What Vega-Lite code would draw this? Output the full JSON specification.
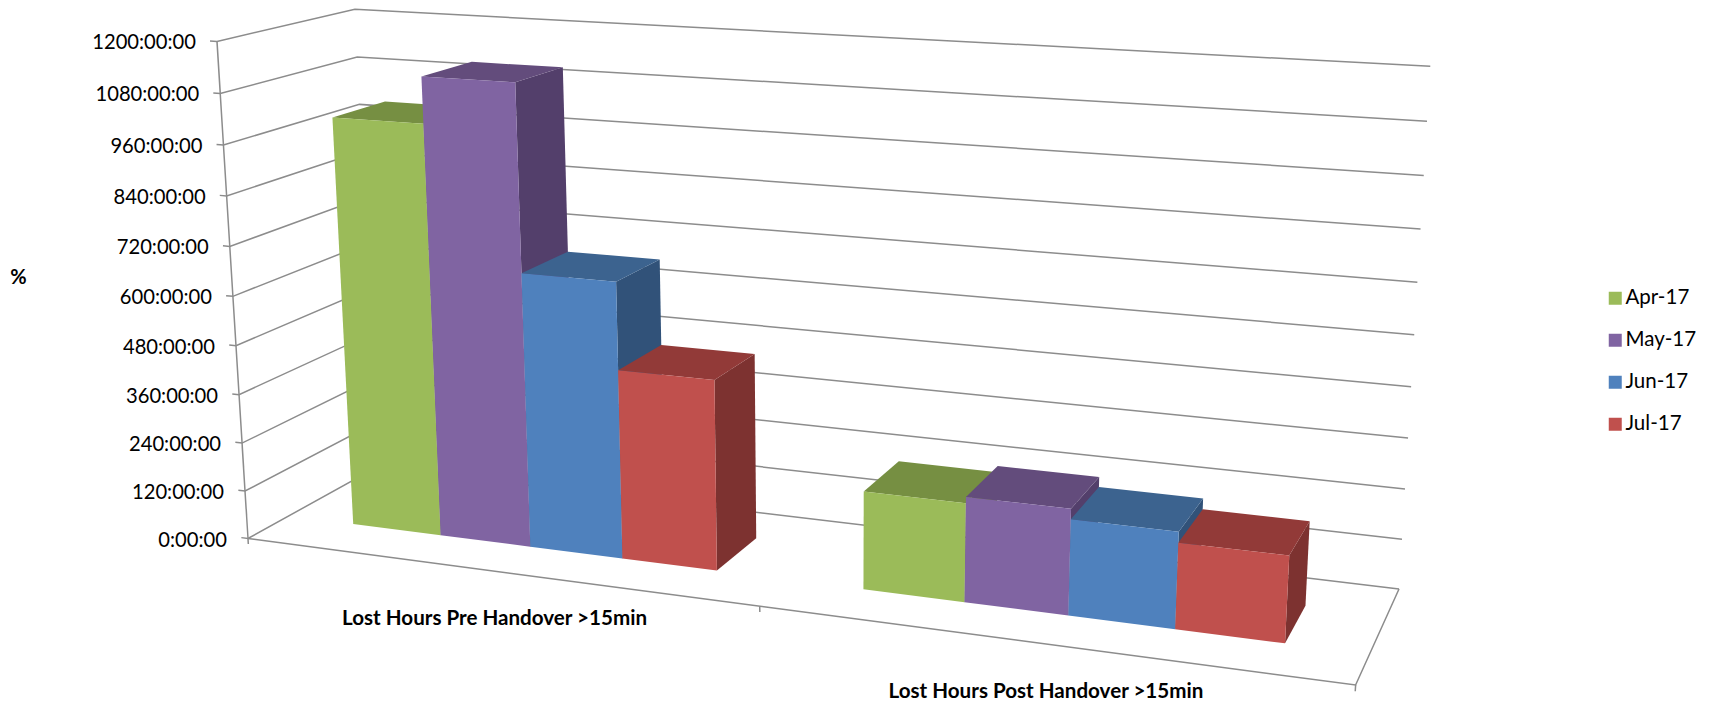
{
  "$schema": "https://vega.github.io/schema/vega-lite/v6.json",
  "width": 1710,
  "height": 702,
  "padding": 0,
  "autosize": {"type": "none"},
  "background": "white",
  "view": {"stroke": null},
  "params": [
    {"name": "pxU", "value": 916.26},
    {"name": "pxV", "value": 162.84},
    {"name": "pxH", "value": -41.85},
    {"name": "px0", "value": 248},
    {"name": "pyU", "value": 49.81},
    {"name": "pyV", "value": -29.59},
    {"name": "pyH", "value": -499.17},
    {"name": "py0", "value": 538.5},
    {"name": "wU", "value": -0.14115},
    {"name": "wV", "value": 0.08975},
    {"name": "wH", "value": -0.05}
  ],
  "datasets": {
    "bars": [
      {"category": "Lost Hours Pre Handover >15min", "month": "Apr-17", "hours": 1006},
      {"category": "Lost Hours Pre Handover >15min", "month": "May-17", "hours": 1116},
      {"category": "Lost Hours Pre Handover >15min", "month": "Jun-17", "hours": 670},
      {"category": "Lost Hours Pre Handover >15min", "month": "Jul-17", "hours": 460},
      {"category": "Lost Hours Post Handover >15min", "month": "Apr-17", "hours": 234},
      {"category": "Lost Hours Post Handover >15min", "month": "May-17", "hours": 249},
      {"category": "Lost Hours Post Handover >15min", "month": "Jun-17", "hours": 225},
      {"category": "Lost Hours Post Handover >15min", "month": "Jul-17", "hours": 200}
    ],
    "ticks": [
      {"hours": 0}, {"hours": 120}, {"hours": 240}, {"hours": 360}, {"hours": 480}, {"hours": 600},
      {"hours": 720}, {"hours": 840}, {"hours": 960}, {"hours": 1080}, {"hours": 1200}
    ],
    "frame": [
      {"edge": "height axis", "step": 0, "pu": 0, "pv": 0, "hours": 0},
      {"edge": "height axis", "step": 1, "pu": 0, "pv": 0, "hours": 1200},
      {"edge": "floor", "step": 0, "pu": 0, "pv": 0, "hours": 0},
      {"edge": "floor", "step": 1, "pu": 1, "pv": 0, "hours": 0},
      {"edge": "floor", "step": 2, "pu": 1, "pv": 1, "hours": 0},
      {"edge": "tick left", "step": 0, "pu": 0, "pv": 0, "hours": 0},
      {"edge": "tick left", "step": 1, "pu": 0, "pv": 0, "hours": -14},
      {"edge": "tick middle", "step": 0, "pu": 0.5, "pv": 0, "hours": 0},
      {"edge": "tick middle", "step": 1, "pu": 0.5, "pv": 0, "hours": -14},
      {"edge": "tick right", "step": 0, "pu": 1, "pv": 0, "hours": 0},
      {"edge": "tick right", "step": 1, "pu": 1, "pv": 0, "hours": -14}
    ],
    "categories": [
      {"category": "Lost Hours Pre Handover >15min", "pu": 0.25},
      {"category": "Lost Hours Post Handover >15min", "pu": 0.75}
    ]
  },
  "encoding": {
    "x": {"field": "X", "type": "quantitative", "scale": {"domain": [0, 1710], "nice": false, "zero": false}, "axis": null},
    "y": {
      "field": "Y",
      "type": "quantitative",
      "scale": {"domain": [702, 0], "nice": false, "zero": false},
      "axis": {
        "title": "%",
        "titleAngle": 0,
        "titleX": 18,
        "titleY": 277,
        "titleAlign": "center",
        "titleBaseline": "middle",
        "titleFont": "Lato",
        "titleFontSize": 20,
        "titleFontWeight": "bold",
        "titleColor": "#000000",
        "labels": false,
        "ticks": false,
        "domain": false,
        "grid": false
      }
    }
  },
  "layer": [
    {
      "data": {"name": "ticks"},
      "transform": [
        {"calculate": "[0, 1, 2, 3]", "as": "stepList"},
        {"flatten": ["stepList"], "as": ["step"]},
        {"calculate": "[-0.007, 0, 0, 1][datum.step]", "as": "pu"},
        {"calculate": "[0, 0, 1, 1][datum.step]", "as": "pv"},
        {"calculate": "datum.hours / 1200", "as": "pt"},
        {"calculate": "(pxU * datum.pu + pxV * datum.pv + pxH * datum.pt + px0) / (wU * datum.pu + wV * datum.pv + wH * datum.pt + 1)", "as": "X"},
        {"calculate": "(pyU * datum.pu + pyV * datum.pv + pyH * datum.pt + py0) / (wU * datum.pu + wV * datum.pv + wH * datum.pt + 1)", "as": "Y"}
      ],
      "mark": {"type": "line", "stroke": "#8c8c8c", "strokeWidth": 1.5},
      "encoding": {
        "detail": {"field": "hours"},
        "order": {"field": "step", "type": "quantitative"}
      }
    },
    {
      "data": {"name": "frame"},
      "transform": [
        {"calculate": "datum.hours / 1200", "as": "pt"},
        {"calculate": "(pxU * datum.pu + pxV * datum.pv + pxH * datum.pt + px0) / (wU * datum.pu + wV * datum.pv + wH * datum.pt + 1)", "as": "X"},
        {"calculate": "(pyU * datum.pu + pyV * datum.pv + pyH * datum.pt + py0) / (wU * datum.pu + wV * datum.pv + wH * datum.pt + 1)", "as": "Y"}
      ],
      "mark": {"type": "line", "stroke": "#8c8c8c", "strokeWidth": 1.5},
      "encoding": {
        "detail": {"field": "edge"},
        "order": {"field": "step", "type": "quantitative"}
      }
    },
    {
      "data": {"name": "bars"},
      "transform": [
        {"calculate": "indexof(['Lost Hours Pre Handover >15min', 'Lost Hours Post Handover >15min'], datum.category)", "as": "catIndex"},
        {"calculate": "indexof(['Apr-17', 'May-17', 'Jun-17', 'Jul-17'], datum.month)", "as": "monthIndex"},
        {"calculate": "datum.catIndex * 0.5 + (0.75 + datum.monthIndex) / 11", "as": "u0"},
        {"calculate": "datum.u0 + 1 / 11", "as": "u1"},
        {"calculate": "datum.hours / 1200", "as": "t"},
        {"calculate": "[0, 1, 2, 3, 4, 5, 6, 7, 8, 9, 10, 11]", "as": "vertexList"},
        {"flatten": ["vertexList"], "as": ["vertex"]},
        {"calculate": "['front', 'top', 'side'][floor(datum.vertex / 4)]", "as": "face"},
        {"calculate": "[datum.u0, datum.u1, datum.u1, datum.u0, datum.u0, datum.u1, datum.u1, datum.u0, datum.u1, datum.u1, datum.u1, datum.u1][datum.vertex]", "as": "pu"},
        {"calculate": "[0.3, 0.3, 0.3, 0.3, 0.3, 0.3, 0.7, 0.7, 0.3, 0.7, 0.7, 0.3][datum.vertex]", "as": "pv"},
        {"calculate": "[datum.t, datum.t, 0, 0, datum.t, datum.t, datum.t, datum.t, datum.t, datum.t, 0, 0][datum.vertex]", "as": "pt"},
        {"calculate": "(pxU * datum.pu + pxV * datum.pv + pxH * datum.pt + px0) / (wU * datum.pu + wV * datum.pv + wH * datum.pt + 1)", "as": "X"},
        {"calculate": "(pyU * datum.pu + pyV * datum.pv + pyH * datum.pt + py0) / (wU * datum.pu + wV * datum.pv + wH * datum.pt + 1)", "as": "Y"}
      ],
      "resolve": {"scale": {"fill": "independent"}},
      "layer": [
        {
          "transform": [{"filter": "datum.face === 'side'"}],
          "mark": {"type": "line", "filled": true, "strokeWidth": 0},
          "encoding": {
            "fill": {"field": "month", "type": "nominal", "sort": null, "legend": null,
              "scale": {"domain": ["Apr-17", "May-17", "Jun-17", "Jul-17"], "range": ["#5f7530", "#533f6b", "#315279", "#7d3230"]}},
            "detail": {"field": "category"},
            "order": {"field": "vertex", "type": "quantitative"}
          }
        },
        {
          "transform": [{"filter": "datum.face === 'top'"}],
          "mark": {"type": "line", "filled": true, "strokeWidth": 0},
          "encoding": {
            "fill": {"field": "month", "type": "nominal", "sort": null, "legend": null,
              "scale": {"domain": ["Apr-17", "May-17", "Jun-17", "Jul-17"], "range": ["#768f42", "#634c7c", "#3c638f", "#923a38"]}},
            "detail": {"field": "category"},
            "order": {"field": "vertex", "type": "quantitative"}
          }
        },
        {
          "transform": [{"filter": "datum.face === 'front'"}],
          "mark": {"type": "line", "filled": true, "strokeWidth": 0},
          "encoding": {
            "fill": {
              "field": "month",
              "type": "nominal",
              "sort": null,
              "scale": {"domain": ["Apr-17", "May-17", "Jun-17", "Jul-17"], "range": ["#9bbb59", "#8064a2", "#4f81bd", "#c0504d"]},
              "legend": {
                "title": null,
                "orient": "none",
                "legendX": 1605,
                "legendY": 288,
                "symbolType": "square",
                "symbolSize": 169,
                "symbolStrokeWidth": 0,
                "labelFont": "Lato",
                "labelFontSize": 20.5,
                "labelColor": "#000000",
                "labelOffset": 0,
                "rowPadding": 21
              }
            },
            "detail": {"field": "category"},
            "order": {"field": "vertex", "type": "quantitative"}
          }
        }
      ]
    },
    {
      "data": {"name": "ticks"},
      "transform": [
        {"calculate": "datum.hours + ':00:00'", "as": "label"},
        {"calculate": "datum.hours / 1200", "as": "pt"},
        {"calculate": "(pxH * datum.pt + px0) / (wH * datum.pt + 1)", "as": "X"},
        {"calculate": "(pyH * datum.pt + py0) / (wH * datum.pt + 1)", "as": "Y"}
      ],
      "mark": {"type": "text", "align": "right", "baseline": "middle", "dx": -21, "dy": 2, "font": "Lato", "fontSize": 20.2, "fill": "#000000"},
      "encoding": {"text": {"field": "label"}}
    },
    {
      "data": {"name": "categories"},
      "transform": [
        {"calculate": "(pxU * datum.pu + px0) / (wU * datum.pu + 1)", "as": "X"},
        {"calculate": "(pyU * datum.pu + py0) / (wU * datum.pu + 1)", "as": "Y"}
      ],
      "mark": {"type": "text", "align": "center", "baseline": "middle", "dy": 47.5, "font": "Lato", "fontSize": 20.6, "fontWeight": "bold", "fill": "#000000"},
      "encoding": {"text": {"field": "category"}}
    }
  ]
}
